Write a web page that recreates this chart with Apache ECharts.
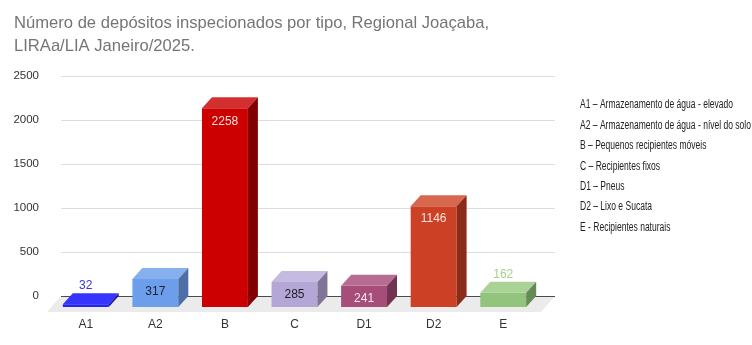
<!DOCTYPE html>
<html><head><meta charset="utf-8">
<script src="https://cdn.jsdelivr.net/npm/echarts@6/dist/echarts.min.js"></script>
<style>html,body{margin:0;padding:0;background:#fff}#c{width:752px;height:345px}</style>
</head><body><div id="c"></div>
<script>
const categories = ['A1', 'A2', 'B', 'C', 'D1', 'D2', 'E'];
const values = [32, 317, 2258, 285, 241, 1146, 162];
const yTicks = [0, 500, 1000, 1500, 2000, 2500];
const legendLines = [
  'A1 – Armazenamento de água - elevado',
  'A2 – Armazenamento de água - nível do solo',
  'B – Pequenos recipientes móveis',
  'C – Recipientes fixos',
  'D1 – Pneus',
  'D2 – Lixo e Sucata',
  'E - Recipientes naturais'
];
const titleText = 'Número de depósitos inspecionados por tipo, Regional Joaçaba,\nLIRAa/LIA Janeiro/2025.';

const frontColors = ['#2424f0', '#6d9eeb', '#cc0000', '#b4a7d6', '#a64d79', '#cc4125', '#93c47d'];
const topColors   = ['#3535ff', '#86afee', '#d42f2f', '#c5bbe1', '#b76d92', '#d8674f', '#a9d296'];
const sideColors  = ['#1a1aa8', '#4d6ea6', '#820000', '#7f7697', '#703352', '#8a2c19', '#668a56'];
const labelColors = ['#3434e8', '#1b2333', '#f8dede', '#1e1b2a', '#f6e6ee', '#f8e2dc', '#a6cf8c'];

const DX = 10, DY = 11, FX = 14, FY = 16;

const chart = echarts.init(document.getElementById('c'), null, {renderer: 'canvas'});

function floorRender(params, api) {
  const c0 = api.coord([0, 0]);
  const band = api.size([1, 0])[0];
  const left = c0[0] - band / 2;
  const right = left + band * categories.length + 7;
  const y0 = c0[1];
  const children = [];
  yTicks.forEach(function (v) {
    if (v === 0) return;
    const y = Math.round(api.coord([0, v])[1]) + 0.5;
    children.push({type: 'line', shape: {x1: left, y1: y, x2: right, y2: y},
      style: {stroke: '#dcdcdc', lineWidth: 1}});
  });
  children.push({type: 'polygon', shape: {points: [[left, y0], [right, y0], [right - FX, y0 + FY], [left - FX, y0 + FY]]},
    style: {fill: '#ebebeb'}});
  const yz = Math.round(y0) + 0.5;
  children.push({type: 'line', shape: {x1: left, y1: yz, x2: right, y2: yz},
    style: {stroke: '#4a4a4a', lineWidth: 1}});
  return {type: 'group', children: children};
}

function barRender(params, api) {
  const i = api.value(0);
  const v = api.value(1);
  const top = api.coord([i, v]);
  const base = api.coord([i, 0]);
  const band = api.size([1, 0])[0];
  const w = band * 0.66;
  const fx = top[0] - DX;
  const xl = fx - w / 2, xr = fx + w / 2;
  const ft = top[1] + DY, fb = base[1] + DY;
  const children = [
    {type: 'rect', shape: {x: xl, y: ft, width: w, height: fb - ft}, style: {fill: frontColors[i]}},
    {type: 'polygon', shape: {points: [[xl, ft], [xr, ft], [xr + DX, top[1]], [xl + DX, top[1]]]}, style: {fill: topColors[i]}},
    {type: 'polygon', shape: {points: [[xr, ft], [xr + DX, top[1]], [xr + DX, base[1]], [xr, fb]]}, style: {fill: sideColors[i]}}
  ];
  const inside = (fb - ft) > 20;
  children.push({type: 'text', style: {
    text: String(v), x: fx, y: inside ? ft + 13 : top[1] - 7,
    align: 'center', verticalAlign: 'middle',
    fill: labelColors[i], font: '12px "Liberation Sans", Arial, sans-serif'
  }});
  return {type: 'group', children: children};
}

const legendGraphics = legendLines.map(function (t, k) {
  return {type: 'text', x: 580, y: 105 + k * 20.4, scaleX: 0.71,
    style: {text: t, x: 0, y: 0, verticalAlign: 'middle', fill: '#222',
      font: '12px "Liberation Sans", Arial, sans-serif'}};
});

chart.setOption({
  animation: false,
  backgroundColor: '#fff',
  title: {text: titleText, left: 9, top: 7,
    textStyle: {fontFamily: '"Liberation Sans", Arial, sans-serif', fontSize: 16.6, fontWeight: 'normal', color: '#757575', lineHeight: 23}},
  grid: {left: 61, right: 204, top: 76, bottom: 49, containLabel: false},
  xAxis: {type: 'category', data: categories,
    axisLine: {show: false}, axisTick: {show: false}, splitLine: {show: false},
    axisLabel: {margin: 23, color: '#333', fontSize: 12, fontFamily: '"Liberation Sans", Arial, sans-serif', padding: [0, 20, 0, 0]}},
  yAxis: {type: 'value', min: 0, max: 2500, interval: 500,
    axisLine: {show: false}, axisTick: {show: false}, splitLine: {show: false},
    axisLabel: {margin: 22, color: '#333', fontSize: 11.5, fontFamily: '"Liberation Sans", Arial, sans-serif',
      formatter: function (v) { return String(v); }}},
  graphic: legendGraphics,
  series: [
    {type: 'custom', name: 'floor', data: [[0, 0]], encode: {x: 0, y: 1}, renderItem: floorRender, silent: true, z: 1},
    {type: 'custom', name: 'bars', data: values.map(function (v, i) { return [i, v]; }), encode: {x: 0, y: 1}, renderItem: barRender, z: 2}
  ]
});
</script></body></html>
